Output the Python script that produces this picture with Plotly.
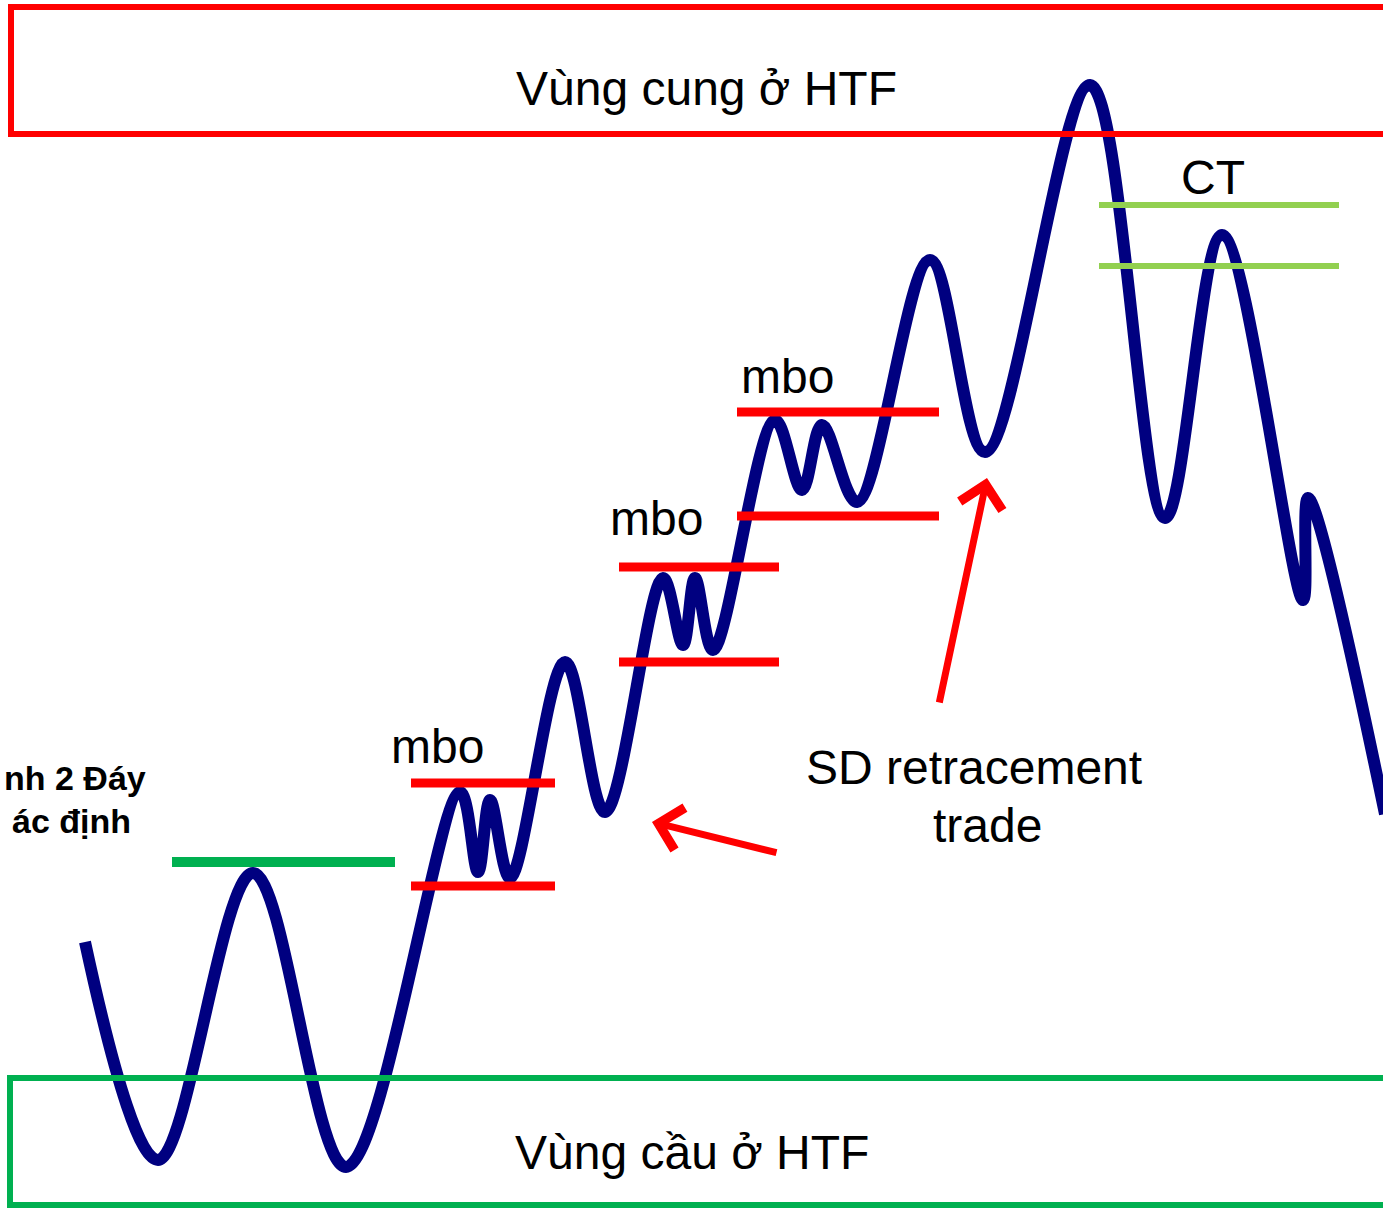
import plotly.graph_objects as go

# Price path key points (peaks and troughs), in chart units (x right, y down)
path_x = [85, 158, 253, 346, 460, 478, 490, 510, 565, 605, 663, 683, 695, 713,
          775, 802, 822, 857, 930, 985, 1090, 1165, 1222, 1303, 1308, 1385]
path_y = [942, 1160, 873, 1167, 792, 872, 800, 878, 662, 812, 578, 645, 578, 650,
          420, 490, 425, 502, 260, 452, 85, 518, 235, 600, 498, 814]

# Zones (x0, y0, x1, y1)
supply_zone = [11, 7, 1400, 134]
demand_zone = [10, 1078, 1400, 1205]

# mbo levels: (x0, x1, y)
mbo_levels = [(411, 555, 783), (411, 555, 886),
              (619, 779, 567), (619, 779, 662),
              (737, 939, 412), (737, 939, 516)]
green_level = (172, 395, 862)
ct_levels = [(1099, 1339, 205), (1099, 1339, 266)]

# Labels
mbo_labels = [("mbo", 437, 746), ("mbo", 656, 518), ("mbo", 787, 376)]
FONT = "Arial, Liberation Sans, sans-serif"
FS = 48

fig = go.Figure()
fig.add_trace(go.Scatter(x=path_x, y=path_y, mode="lines",
                         line=dict(color="#000080", width=12, shape="spline", smoothing=1.0),
                         hoverinfo="skip", showlegend=False))

shapes = []
shapes.append(dict(type="rect", x0=supply_zone[0], y0=supply_zone[1], x1=supply_zone[2], y1=supply_zone[3],
                   line=dict(color="#FF0000", width=6), fillcolor="rgba(0,0,0,0)"))
shapes.append(dict(type="rect", x0=demand_zone[0], y0=demand_zone[1], x1=demand_zone[2], y1=demand_zone[3],
                   line=dict(color="#00B050", width=6), fillcolor="rgba(0,0,0,0)"))
for x0, x1, y in mbo_levels:
    shapes.append(dict(type="line", x0=x0, x1=x1, y0=y, y1=y, line=dict(color="#FF0000", width=9)))
shapes.append(dict(type="line", x0=green_level[0], x1=green_level[1], y0=green_level[2], y1=green_level[2],
                   line=dict(color="#00B050", width=10)))
for x0, x1, y in ct_levels:
    shapes.append(dict(type="line", x0=x0, x1=x1, y0=y, y1=y, line=dict(color="#92D050", width=6)))

annotations = []
annotations.append(dict(x=706, y=88, text="Vùng cung ở HTF", showarrow=False,
                        font=dict(size=FS, color="black", family=FONT)))
annotations.append(dict(x=692, y=1152, text="Vùng cầu ở HTF", showarrow=False,
                        font=dict(size=FS, color="black", family=FONT)))
for t, x, y in mbo_labels:
    annotations.append(dict(x=x, y=y, text=t, showarrow=False,
                            font=dict(size=FS, color="black", family=FONT)))
annotations.append(dict(x=1213, y=177, text="CT", showarrow=False,
                        font=dict(size=FS, color="black", family=FONT)))
annotations.append(dict(x=974, y=767, text="SD retracement", showarrow=False,
                        font=dict(size=FS, color="black", family=FONT)))
annotations.append(dict(x=987, y=825, text="trade", showarrow=False,
                        font=dict(size=FS, color="black", family=FONT)))
annotations.append(dict(x=148, y=778, text="<b>nh 2 Đáy</b>", showarrow=False, xanchor="right",
                        font=dict(size=34, color="black", family=FONT)))
annotations.append(dict(x=133, y=821, text="<b>ác định</b>", showarrow=False, xanchor="right",
                        font=dict(size=34, color="black", family=FONT)))
# arrows
annotations.append(dict(x=652, y=822, ax=778, ay=853, axref="x", ayref="y", xref="x", yref="y",
                        text="", showarrow=True, arrowhead=4, arrowsize=1.2, arrowwidth=7,
                        arrowcolor="#FF0000"))
annotations.append(dict(x=987, y=478, ax=939, ay=704, axref="x", ayref="y", xref="x", yref="y",
                        text="", showarrow=True, arrowhead=4, arrowsize=1.2, arrowwidth=7,
                        arrowcolor="#FF0000"))

fig.update_layout(width=1383, height=1210, margin=dict(l=0, r=0, t=0, b=0),
                  plot_bgcolor="white", paper_bgcolor="white",
                  shapes=shapes, annotations=annotations,
                  xaxis=dict(range=[0, 1383], visible=False, fixedrange=True),
                  yaxis=dict(range=[1210, 0], visible=False, fixedrange=True))
fig.write_html("out.html", config={"displayModeBar": False},
               post_script="document.body.style.margin='0';document.body.style.overflow='hidden';")
